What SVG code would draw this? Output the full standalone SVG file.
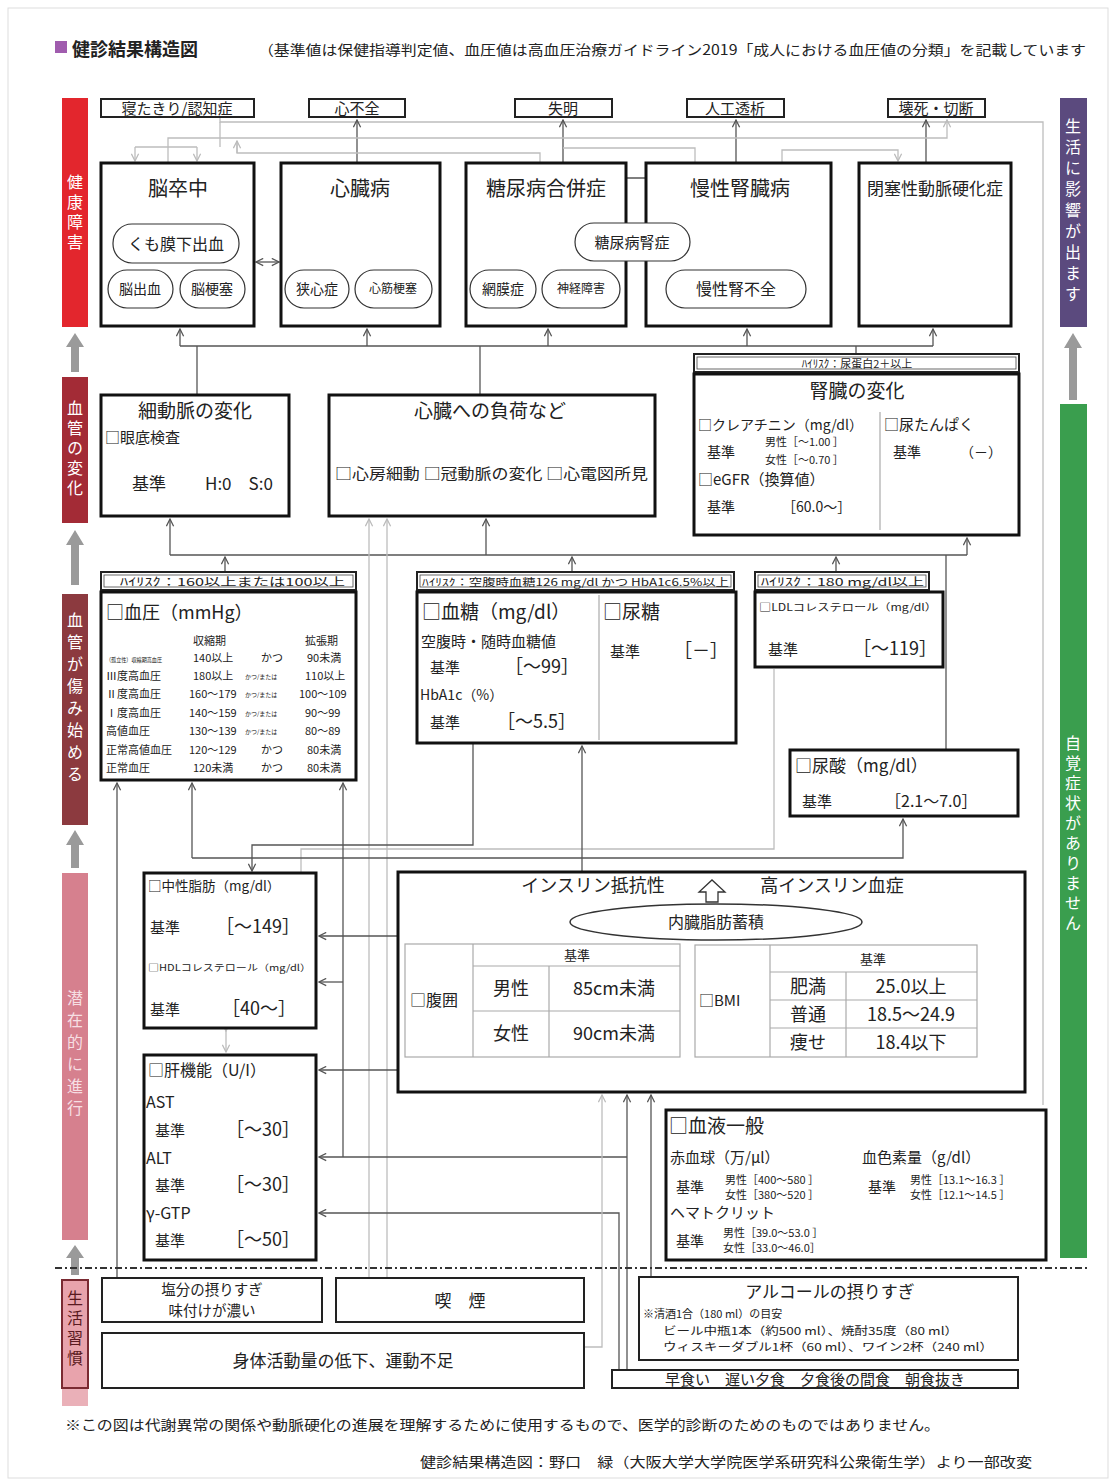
<svg xmlns="http://www.w3.org/2000/svg" width="1110" height="1481" viewBox="0 0 1110 1481">
<defs>
<style>
text{font-family:"Noto Sans CJK JP","Noto Sans",sans-serif;fill:#222}
.box{fill:#fff;stroke:#111;stroke-width:3}
.ob{fill:#fff;stroke:#222;stroke-width:2}
.pill{fill:#fff;stroke:#333;stroke-width:1.2}
.hr{fill:#fff;stroke:#222;stroke-width:2}
.hri{fill:none;stroke:#444;stroke-width:0.8}
.ln{stroke:#555;stroke-width:1.3;fill:none}
.lg{stroke:#bdbdbd;stroke-width:1.3;fill:none}
.tb{stroke:#aaa;stroke-width:1.2;fill:none}
.c{text-anchor:middle}
.vt{writing-mode:vertical-rl;fill:#fff;font-size:16px;letter-spacing:4px}
</style>
<marker id="a" viewBox="0 0 10 10" refX="9" refY="5" markerWidth="9" markerHeight="9" orient="auto" markerUnits="userSpaceOnUse"><path d="M1,1 L9,5 L1,9" fill="none" stroke="#555" stroke-width="1.4"/></marker>
<marker id="g" viewBox="0 0 10 10" refX="9" refY="5" markerWidth="9" markerHeight="9" orient="auto" markerUnits="userSpaceOnUse"><path d="M1,1 L9,5 L1,9" fill="none" stroke="#bbb" stroke-width="1.4"/></marker>
<marker id="as" viewBox="0 0 10 10" refX="1" refY="5" markerWidth="9" markerHeight="9" orient="auto" markerUnits="userSpaceOnUse"><path d="M9,1 L1,5 L9,9" fill="none" stroke="#555" stroke-width="1.4"/></marker>
</defs>
<rect x="0" y="0" width="1110" height="1481" fill="#fff"/>
<rect x="8" y="8" width="1100" height="1470" fill="none" stroke="#ddd" stroke-width="1"/>

<g id="title">
<rect x="55" y="41" width="12" height="12" fill="#a05cae"/>
<text x="72" y="56" font-size="18" font-weight="bold">健診結果構造図</text>
<text x="258" y="55" font-size="14" textLength="828" lengthAdjust="spacingAndGlyphs">（基準値は保健指導判定値、血圧値は高血圧治療ガイドライン2019「成人における血圧値の分類」を記載しています</text>
</g>

<g id="sidebars">
<rect x="62" y="98" width="26" height="229" fill="#e3262d"/>
<text class="vt" x="75" y="174">健康障害</text>
<rect x="62" y="377" width="26" height="146" fill="#a32b36"/>
<text class="vt" x="75" y="400">血管の変化</text>
<rect x="62" y="594" width="26" height="231" fill="#8c3a3f"/>
<text class="vt" x="75" y="612" style="letter-spacing:6px">血管が傷み始める</text>
<rect x="62" y="873" width="26" height="367" fill="#d6808e"/>
<text class="vt" x="75" y="990" style="letter-spacing:6px;fill:#f6dfe3">潜在的に進行</text>
<rect x="62" y="1380" width="26" height="26" fill="#eab0b8"/>
<rect x="62" y="1280" width="26" height="108" fill="#e8a3ac" stroke="#7a2a32" stroke-width="2"/>
<text class="vt" x="75" y="1290" style="fill:#5a1a20">生活習慣</text>
<rect x="1060" y="98" width="27" height="229" fill="#5b4a7e"/>
<text class="vt" x="1073" y="118" style="letter-spacing:5px">生活に影響が出ます</text>
<rect x="1060" y="404" width="27" height="854" fill="#3a9e4e"/>
<text class="vt" x="1073" y="735" style="letter-spacing:4px">自覚症状がありません</text>
<g fill="#9a9a9a">
<path d="M71,372 V347 H66 L75,333 L84,347 H79 V372 Z"/>
<path d="M71,585 V545 H66 L75,530 L84,545 H79 V585 Z"/>
<path d="M71,868 V845 H66 L75,830 L84,845 H79 V868 Z"/>
<path d="M71,1275 V1258 H66 L75,1245 L84,1258 H79 V1275 Z"/>
<path d="M1069,400 V348 H1064 L1073,333 L1082,348 H1077 V400 Z"/>
</g>
</g>

<g id="connectors">
<path class="lg" d="M220,118 V122 H1043 V1105"/>
<path class="ln" d="M357,163 V120" marker-end="url(#a)"/>
<path class="ln" d="M563,163 V120" marker-end="url(#a)"/>
<path class="ln" d="M736,163 V120" marker-end="url(#a)"/>
<path class="ln" d="M926,163 V120" marker-end="url(#a)"/>
<path class="lg" d="M168,163 V138 H947 V120" marker-end="url(#g)"/>
<path class="lg" d="M135,147 H197"/>
<path class="lg" d="M135,147 V161" marker-end="url(#g)"/>
<path class="lg" d="M197,147 V161" marker-end="url(#g)"/>
<path class="lg" d="M220,122 V147"/>
<path class="lg" d="M237,141 V153 H540 V163"/>
<path class="lg" d="M237,153 V141" marker-end="url(#g)"/>
<path class="lg" d="M695,163 V148 H563"/>
<path class="lg" d="M782,163 V150 H898 V161" marker-end="url(#g)"/>
<path class="ln" d="M256,262 H279" marker-start="url(#as)" marker-end="url(#a)"/>
<path class="ln" d="M612,178 H657" marker-start="url(#as)" marker-end="url(#a)"/>
<path class="ln" d="M180,346 H933"/>
<path class="ln" d="M180,346 V329" marker-end="url(#a)"/>
<path class="ln" d="M367,346 V329" marker-end="url(#a)"/>
<path class="ln" d="M548,346 V329" marker-end="url(#a)"/>
<path class="ln" d="M747,346 V329" marker-end="url(#a)"/>
<path class="ln" d="M933,346 V329" marker-end="url(#a)"/>
<path class="ln" d="M197,395 V346"/>
<path class="ln" d="M480,395 V346"/>
<path class="ln" d="M856,354 V346"/>
<path class="ln" d="M170,555 H967"/>
<path class="ln" d="M170,555 V519" marker-end="url(#a)"/>
<path class="ln" d="M486,555 V519" marker-end="url(#a)"/>
<path class="ln" d="M967,555 V538" marker-end="url(#a)"/>
<path class="ln" d="M225,572 V557" marker-end="url(#a)"/>
<path class="ln" d="M572,572 V557" marker-end="url(#a)"/>
<path class="ln" d="M836,572 V557" marker-end="url(#a)"/>
<path class="ln" d="M946,750 V555"/>
<path class="lg" d="M369,1278 V519" marker-end="url(#g)"/>
<path class="lg" d="M387,1278 V519" marker-end="url(#g)"/>
<path class="lg" d="M774,669 V849 H301 V873"/>
<path class="ln" d="M117,1278 V783" marker-end="url(#a)"/>
<path class="ln" d="M192,858 V783" marker-end="url(#a)"/>
<path class="ln" d="M192,858 H903 V819" marker-end="url(#a)"/>
<path class="ln" d="M473,744 V845 H252 V871" marker-end="url(#a)"/>
<path class="ln" d="M582,872 V746" marker-end="url(#a)"/>
<path class="ln" d="M343,1157 V783" marker-end="url(#a)"/>
<path class="ln" d="M343,982 H319" marker-end="url(#a)"/>
<path class="ln" d="M398,936 H319" marker-end="url(#a)"/>
<path class="ln" d="M398,1070 H319" marker-end="url(#a)"/>
<path class="ln" d="M627,1157 H319" marker-end="url(#a)"/>
<path class="ln" d="M619,1370 V1213 H319" marker-end="url(#a)"/>
<path class="ln" d="M627,1370 V1095" marker-end="url(#a)"/>
<path class="ln" d="M651,1277 V1095" marker-end="url(#a)"/>
<path class="lg" d="M584,1347 H602 V1095" marker-end="url(#g)"/>
<path class="lg" d="M226,1031 V1052" marker-start="url(#g)" marker-end="url(#g)"/>
</g>

<g id="outcomes">
<g id="n-netakiri"><rect class="ob" x="101" y="99" width="153" height="18"/><text class="c" x="177" y="114" font-size="15">寝たきり/認知症</text></g>
<g id="n-shinfuzen"><rect class="ob" x="309" y="99" width="96" height="18"/><text class="c" x="357" y="114" font-size="15">心不全</text></g>
<g id="n-shitsumei"><rect class="ob" x="515" y="99" width="97" height="18"/><text class="c" x="563" y="114" font-size="15">失明</text></g>
<g id="n-toseki"><rect class="ob" x="687" y="99" width="97" height="18"/><text class="c" x="735" y="114" font-size="15">人工透析</text></g>
<g id="n-esi"><rect class="ob" x="888" y="99" width="97" height="18"/><text class="c" x="936" y="114" font-size="15">壊死・切断</text></g>
</g>

<g id="diseases">
<g id="n-nosocchu"><rect class="box" x="101" y="163" width="153" height="163"/>
<text class="c" x="178" y="196" font-size="20">脳卒中</text>
<rect class="pill" x="113" y="224" width="126" height="39" rx="19"/><text class="c" x="176" y="250" font-size="16">くも膜下出血</text>
<rect class="pill" x="108" y="270" width="65" height="38" rx="19"/><text class="c" x="140" y="294" font-size="14">脳出血</text>
<rect class="pill" x="180" y="270" width="65" height="38" rx="19"/><text class="c" x="212" y="294" font-size="14">脳梗塞</text>
</g>
<g id="n-shinzobyo"><rect class="box" x="281" y="163" width="159" height="163"/>
<text class="c" x="360" y="196" font-size="20">心臓病</text>
<rect class="pill" x="285" y="270" width="64" height="38" rx="19"/><text class="c" x="317" y="294" font-size="14">狭心症</text>
<rect class="pill" x="355" y="270" width="77" height="38" rx="19"/><text class="c" x="393" y="293" font-size="12">心筋梗塞</text>
</g>
<g id="n-tonyo"><rect class="box" x="466" y="163" width="160" height="163"/>
<text class="c" x="546" y="196" font-size="20">糖尿病合併症</text>
<rect class="pill" x="470" y="270" width="66" height="38" rx="19"/><text class="c" x="503" y="294" font-size="14">網膜症</text>
<rect class="pill" x="542" y="270" width="78" height="38" rx="19"/><text class="c" x="581" y="293" font-size="12">神経障害</text>
</g>
<g id="n-ckd"><rect class="box" x="646" y="163" width="185" height="163"/>
<text class="c" x="740" y="196" font-size="20">慢性腎臓病</text>
<rect class="pill" x="666" y="270" width="140" height="38" rx="19"/><text class="c" x="736" y="295" font-size="16">慢性腎不全</text>
</g>
<g id="n-jinsho"><rect class="pill" x="575" y="223" width="115" height="38" rx="19"/><text class="c" x="632" y="248" font-size="15">糖尿病腎症</text></g>
<g id="n-aso"><rect class="box" x="859" y="163" width="152" height="163"/>
<text class="c" x="935" y="195" font-size="17">閉塞性動脈硬化症</text>
</g>
</g>

<g id="vascular">
<g id="n-saidomyaku"><rect class="box" x="101" y="395" width="188" height="121"/>
<text class="c" x="195" y="418" font-size="19">細動脈の変化</text>
<text x="105" y="443" font-size="15">□眼底検査</text>
<text x="132" y="490" font-size="17">基準</text>
<text x="205" y="490" font-size="17">H:0　S:0</text>
</g>
<g id="n-shinfuka"><rect class="box" x="329" y="395" width="326" height="121"/>
<text class="c" x="490" y="418" font-size="19">心臓への負荷など</text>
<text x="335" y="479" font-size="15" textLength="313" lengthAdjust="spacingAndGlyphs">□心房細動 □冠動脈の変化 □心電図所見</text>
</g>
<g id="n-jinzo">
<rect class="hr" x="694" y="354" width="325" height="18"/><rect class="hri" x="697" y="357" width="319" height="12"/>
<text class="c" x="857" y="368" font-size="11">ﾊｲﾘｽｸ：尿蛋白2＋以上</text>
<rect class="box" x="694" y="374" width="325" height="161"/>
<text class="c" x="857" y="398" font-size="19">腎臓の変化</text>
<line class="tb" x1="880" y1="412" x2="880" y2="530"/>
<text x="698" y="430" font-size="14">□クレアチニン（mg/dl）</text>
<text x="707" y="457" font-size="14">基準</text>
<text x="765" y="446" font-size="11">男性［～1.00 ］</text>
<text x="765" y="464" font-size="11">女性［～0.70 ］</text>
<text x="698" y="485" font-size="15">□eGFR（換算値）</text>
<text x="707" y="512" font-size="14">基準</text>
<text x="782" y="512" font-size="14">［60.0～］</text>
<text x="884" y="430" font-size="15">□尿たんぱく</text>
<text x="893" y="457" font-size="14">基準</text>
<text x="960" y="457" font-size="14">（－）</text>
</g>
</g>

<g id="risk">
<g id="n-ketsuatsu">
<rect class="hr" x="101" y="572" width="255" height="18"/><rect class="hri" x="104" y="575" width="249" height="12"/>
<text x="120" y="586" font-size="11" textLength="225" lengthAdjust="spacingAndGlyphs">ﾊｲﾘｽｸ：160以上または100以上</text>
<rect class="box" x="101" y="592" width="255" height="188"/>
<text x="106" y="619" font-size="18">□血圧（mmHg）</text>
<g font-size="11">
<text x="193" y="645">収縮期</text><text x="305" y="645">拡張期</text>
<text x="106" y="662" font-size="6" textLength="56" lengthAdjust="spacingAndGlyphs">（孤立性）収縮期高血圧</text>
<text x="193" y="662">140以上</text><text x="261" y="662">かつ</text><text x="307" y="662">90未満</text>
<text x="106" y="680">Ⅲ度高血圧</text><text x="193" y="680">180以上</text><text x="245" y="679" font-size="6">かつ/または</text><text x="305" y="680">110以上</text>
<text x="106" y="698">Ⅱ度高血圧</text><text x="189" y="698">160～179</text><text x="245" y="697" font-size="6">かつ/または</text><text x="299" y="698">100～109</text>
<text x="106" y="717">Ⅰ度高血圧</text><text x="189" y="717">140～159</text><text x="245" y="716" font-size="6">かつ/または</text><text x="305" y="717">90～99</text>
<text x="106" y="735">高値血圧</text><text x="189" y="735">130～139</text><text x="245" y="734" font-size="6">かつ/または</text><text x="305" y="735">80～89</text>
<text x="106" y="754">正常高値血圧</text><text x="189" y="754">120～129</text><text x="261" y="754">かつ</text><text x="307" y="754">80未満</text>
<text x="106" y="772">正常血圧</text><text x="193" y="772">120未満</text><text x="261" y="772">かつ</text><text x="307" y="772">80未満</text>
</g>
</g>
<g id="n-kettou">
<rect class="hr" x="417" y="572" width="317" height="18"/><rect class="hri" x="420" y="575" width="311" height="12"/>
<text x="422" y="586" font-size="10" textLength="307" lengthAdjust="spacingAndGlyphs">ﾊｲﾘｽｸ：空腹時血糖126 mg/dl かつ HbA1c6.5%以上</text>
<rect class="box" x="417" y="592" width="319" height="151"/>
<line class="tb" x1="599" y1="595" x2="599" y2="740"/>
<text x="422" y="619" font-size="19">□血糖（mg/dl）</text>
<text x="421" y="647" font-size="15">空腹時・随時血糖値</text>
<text x="430" y="673" font-size="15">基準</text><text x="505" y="673" font-size="18">［～99］</text>
<text x="420" y="700" font-size="14">HbA1c（%）</text>
<text x="430" y="728" font-size="15">基準</text><text x="497" y="728" font-size="18">［～5.5］</text>
<text x="603" y="619" font-size="19">□尿糖</text>
<text x="610" y="657" font-size="15">基準</text><text x="674" y="657" font-size="18">［－］</text>
</g>
<g id="n-ldl">
<rect class="hr" x="755" y="572" width="174" height="18"/><rect class="hri" x="758" y="575" width="168" height="12"/>
<text x="761" y="586" font-size="11" textLength="163" lengthAdjust="spacingAndGlyphs">ﾊｲﾘｽｸ：180 mg/dl以上</text>
<rect class="box" x="755" y="592" width="188" height="75"/>
<text x="759" y="611" font-size="10" textLength="178" lengthAdjust="spacingAndGlyphs">□LDLコレステロール（mg/dl）</text>
<text x="768" y="655" font-size="15">基準</text><text x="853" y="655" font-size="18">［～119］</text>
</g>
<g id="n-nyosan">
<rect class="box" x="790" y="750" width="228" height="66"/>
<text x="795" y="772" font-size="17">□尿酸（mg/dl）</text>
<text x="802" y="807" font-size="15">基準</text><text x="885" y="807" font-size="16">［2.1～7.0］</text>
</g>
</g>

<g id="latent">
<g id="n-chusei">
<rect class="box" x="144" y="873" width="172" height="155"/>
<text x="148" y="891" font-size="13.5">□中性脂肪（mg/dl）</text>
<text x="150" y="933" font-size="15">基準</text><text x="216" y="933" font-size="18">［～149］</text>
<text x="148" y="971" font-size="9" textLength="163" lengthAdjust="spacingAndGlyphs">□HDLコレステロール（mg/dl）</text>
<text x="150" y="1015" font-size="15">基準</text><text x="222" y="1015" font-size="18">［40～］</text>
</g>
<g id="n-kanki">
<rect class="box" x="144" y="1055" width="172" height="205"/>
<text x="148" y="1076" font-size="16">□肝機能（U/I）</text>
<text x="146" y="1108" font-size="16">AST</text>
<text x="155" y="1136" font-size="15">基準</text><text x="226" y="1136" font-size="18">［～30］</text>
<text x="146" y="1164" font-size="16">ALT</text>
<text x="155" y="1191" font-size="15">基準</text><text x="226" y="1191" font-size="18">［～30］</text>
<text x="146" y="1219" font-size="16">γ-GTP</text>
<text x="155" y="1246" font-size="15">基準</text><text x="226" y="1246" font-size="18">［～50］</text>
</g>
<g id="n-insulin">
<rect class="box" x="398" y="872" width="627" height="220"/>
<text class="c" x="593" y="892" font-size="18">インスリン抵抗性</text>
<path d="M706,902 V892 H699 L712,880 L725,892 H718 V902 Z" fill="#fff" stroke="#333" stroke-width="1.3"/>
<text class="c" x="832" y="892" font-size="18">高インスリン血症</text>
<ellipse cx="716" cy="922" rx="146" ry="18" fill="#fff" stroke="#333" stroke-width="1.5"/>
<text class="c" x="716" y="928" font-size="16">内臓脂肪蓄積</text>
<g class="tb">
<rect x="405" y="944" width="275" height="113"/>
<line x1="473" y1="944" x2="473" y2="1057"/>
<line x1="473" y1="966" x2="680" y2="966"/>
<line x1="549" y1="966" x2="549" y2="1057"/>
<line x1="473" y1="1011" x2="680" y2="1011"/>
<rect x="695" y="945" width="282" height="112"/>
<line x1="770" y1="945" x2="770" y2="1057"/>
<line x1="770" y1="972" x2="977" y2="972"/>
<line x1="846" y1="972" x2="846" y2="1057"/>
<line x1="770" y1="1000" x2="977" y2="1000"/>
<line x1="770" y1="1028" x2="977" y2="1028"/>
</g>
<text class="c" x="577" y="960" font-size="13">基準</text>
<text x="410" y="1006" font-size="16">□腹囲</text>
<text class="c" x="511" y="995" font-size="18">男性</text><text class="c" x="614" y="995" font-size="18">85cm未満</text>
<text class="c" x="511" y="1040" font-size="18">女性</text><text class="c" x="614" y="1040" font-size="18">90cm未満</text>
<text class="c" x="873" y="964" font-size="13">基準</text>
<text x="699" y="1006" font-size="15">□BMI</text>
<text class="c" x="808" y="993" font-size="18">肥満</text><text class="c" x="911" y="993" font-size="18">25.0以上</text>
<text class="c" x="808" y="1021" font-size="18">普通</text><text class="c" x="911" y="1021" font-size="18">18.5～24.9</text>
<text class="c" x="808" y="1049" font-size="18">痩せ</text><text class="c" x="911" y="1049" font-size="18">18.4以下</text>
</g>
<g id="n-ketsueki">
<rect class="box" x="666" y="1110" width="380" height="150"/>
<text x="669" y="1133" font-size="19">□血液一般</text>
<text x="670" y="1163" font-size="15">赤血球（万/μl）</text>
<text x="676" y="1192" font-size="14">基準</text>
<text x="725" y="1184" font-size="11">男性［400～580 ］</text>
<text x="725" y="1199" font-size="11">女性［380～520 ］</text>
<text x="862" y="1163" font-size="15">血色素量（g/dl）</text>
<text x="868" y="1192" font-size="14">基準</text>
<text x="910" y="1184" font-size="11">男性［13.1～16.3 ］</text>
<text x="910" y="1199" font-size="11">女性［12.1～14.5 ］</text>
<text x="670" y="1218" font-size="15">ヘマトクリット</text>
<text x="676" y="1246" font-size="14">基準</text>
<text x="723" y="1237" font-size="11">男性［39.0～53.0 ］</text>
<text x="723" y="1252" font-size="11">女性［33.0～46.0］</text>
</g>
</g>

<line x1="55" y1="1268" x2="1088" y2="1268" stroke="#333" stroke-width="2" stroke-dasharray="7,3,2,3"/>

<g id="lifestyle">
<g id="n-enbun"><rect class="ob" x="102" y="1278" width="220" height="44"/>
<text class="c" x="212" y="1295" font-size="14.5">塩分の摂りすぎ</text>
<text class="c" x="212" y="1316" font-size="14.5">味付けが濃い</text></g>
<g id="n-kitsuen"><rect class="ob" x="336" y="1278" width="248" height="44"/>
<text class="c" x="460" y="1307" font-size="17">喫　煙</text></g>
<g id="n-shintai"><rect class="ob" x="102" y="1333" width="482" height="55"/>
<text class="c" x="343" y="1367" font-size="17">身体活動量の低下、運動不足</text></g>
<g id="n-alcohol"><rect class="ob" x="639" y="1277" width="379" height="83"/>
<text class="c" x="830" y="1298" font-size="17">アルコールの摂りすぎ</text>
<text x="643" y="1318" font-size="11">※清酒1合（180 ml）の目安</text>
<text x="663" y="1335" font-size="11" textLength="295" lengthAdjust="spacingAndGlyphs">ビール中瓶1本（約500 ml）、焼酎35度（80 ml）</text>
<text x="663" y="1351" font-size="11" textLength="330" lengthAdjust="spacingAndGlyphs">ウィスキーダブル1杯（60 ml）、ワイン2杯（240 ml）</text></g>
<g id="n-shokuji"><rect class="ob" x="612" y="1370" width="406" height="18"/>
<text class="c" x="815" y="1385" font-size="15">早食い　遅い夕食　夕食後の間食　朝食抜き</text></g>
</g>

<g id="footer">
<text x="65" y="1430" font-size="14" textLength="875" lengthAdjust="spacingAndGlyphs">※この図は代謝異常の関係や動脈硬化の進展を理解するために使用するもので、医学的診断のためのものではありません。</text>
<text x="420" y="1467" font-size="14" textLength="612" lengthAdjust="spacingAndGlyphs">健診結果構造図：野口　緑（大阪大学大学院医学系研究科公衆衛生学）より一部改変</text>
</g>
</svg>
